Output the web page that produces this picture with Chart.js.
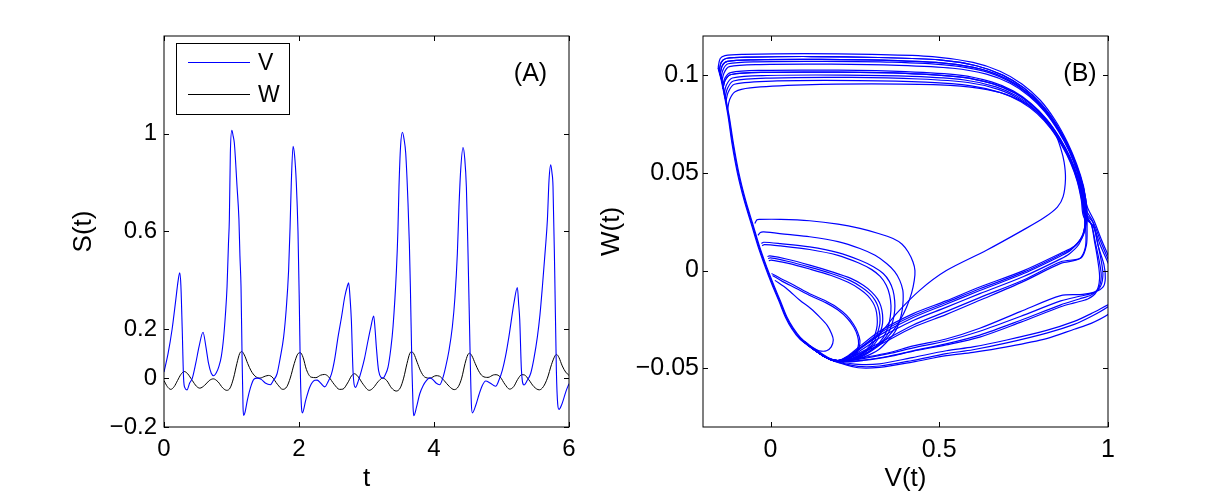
<!DOCTYPE html>
<html>
<head>
<meta charset="utf-8">
<script src="https://cdn.jsdelivr.net/npm/chart.js@4"></script>
<style>
  html, body { margin: 0; padding: 0; background: #fff; }
  #wrap { position: relative; width: 1223px; height: 494px; overflow: hidden; }
  .panel { position: absolute; top: 0; }
  #panelA { left: 0; }
  #panelB { left: 590px; }
</style>
</head>
<body>
<div id="wrap">
  <div class="panel" id="panelA"><canvas id="chartA" width="611" height="494"></canvas></div>
  <div class="panel" id="panelB"><canvas id="chartB" width="633" height="494"></canvas></div>
</div>
<script>
// ---- Panel (A): time series ----
const timeV = [0, 0.06, 0.12, 0.17, 0.21, 0.233, 0.25, 0.27, 0.29, 0.31, 0.34, 0.38, 0.42, 0.47, 0.52, 0.578, 0.62, 0.66, 0.70, 0.736,
  0.78, 0.81, 0.85, 0.884, 0.91, 0.934, 0.955, 0.968, 0.983, 1.005, 1.025, 1.042, 1.082, 1.11, 1.125, 1.141, 1.156, 1.171, 1.181,
  1.20, 1.235, 1.28, 1.33, 1.38, 1.44, 1.50, 1.576, 1.62, 1.675, 1.72, 1.772, 1.81, 1.846, 1.868, 1.886, 1.912, 1.935, 1.96, 1.985,
  2.005, 2.022, 2.037, 2.05, 2.10, 2.159, 2.233, 2.27, 2.32, 2.381, 2.43, 2.48, 2.53, 2.578, 2.63, 2.677, 2.715, 2.736, 2.756, 2.776,
  2.8, 2.836, 2.88, 2.924, 2.97, 3.022, 3.065, 3.107, 3.127, 3.146, 3.18, 3.244, 3.28, 3.319, 3.36, 3.393, 3.443, 3.465, 3.481, 3.505,
  3.532, 3.555, 3.581, 3.615, 3.635, 3.65, 3.674, 3.69, 3.70, 3.74, 3.788, 3.84, 3.887, 3.936, 3.98, 4.03, 4.084, 4.13, 4.173, 4.22,
  4.272, 4.31, 4.346, 4.37, 4.395, 4.43, 4.455, 4.48, 4.504, 4.53, 4.554, 4.569, 4.62, 4.667, 4.716, 4.766, 4.83, 4.914, 4.96, 5.013,
  5.06, 5.11, 5.186, 5.235, 5.255, 5.27, 5.295, 5.333, 5.38, 5.433, 5.48, 5.532, 5.57, 5.606, 5.65, 5.68, 5.704, 5.729, 5.748, 5.763,
  5.788, 5.813, 5.833, 5.852, 5.89, 5.926, 5.96, 6.0];
const valuesV = [0.025, 0.1, 0.2, 0.31, 0.40, 0.431, 0.38, 0.2, 0.0, -0.04, -0.048, -0.02, 0.0, 0.06, 0.13, 0.188, 0.13, 0.06, 0.02, 0.01,
  0.025, 0.045, 0.09, 0.168, 0.26, 0.374, 0.55, 0.648, 0.92, 1.014, 0.99, 0.962, 0.784, 0.65, 0.5, 0.374, 0.1, -0.12, -0.153,
  -0.14, -0.09, -0.04, -0.005, 0.0, -0.005, -0.02, -0.027, -0.01, 0.018, 0.08, 0.168, 0.28, 0.44, 0.62, 0.8, 0.949, 0.91, 0.80, 0.6,
  0.3, 0.0, -0.12, -0.142, -0.09, -0.037, -0.009, -0.008, -0.02, -0.036, -0.015, 0.016, 0.08, 0.168, 0.25, 0.332, 0.375, 0.39, 0.33, 0.236,
  0.03, -0.038, -0.01, 0.03, 0.08, 0.153, 0.21, 0.254, 0.2, 0.127, 0.03, 0.0, 0.015, 0.045, 0.12, 0.21, 0.44, 0.6, 0.78, 0.95,
  1.006, 0.98, 0.92, 0.716, 0.55, 0.374, 0.03, -0.12, -0.154, -0.12, -0.065, -0.03, -0.01, 0.001, -0.005, -0.02, -0.027, 0.0, 0.046, 0.11,
  0.21, 0.33, 0.51, 0.7, 0.85, 0.944, 0.9, 0.78, 0.51, 0.166, -0.108, -0.142, -0.11, -0.067, -0.03, -0.012, -0.02, -0.033, -0.01, 0.033,
  0.09, 0.17, 0.31, 0.371, 0.3, 0.24, 0.034, -0.028, -0.01, 0.02, 0.08, 0.17, 0.26, 0.375, 0.53, 0.648, 0.81, 0.873, 0.84, 0.785,
  0.44, 0.03, -0.107, -0.128, -0.11, -0.08, -0.05, -0.023];

const timeW = [0, 0.05, 0.1, 0.15, 0.2, 0.25, 0.3, 0.35, 0.42, 0.48, 0.53, 0.6, 0.67, 0.73, 0.8, 0.87, 0.93, 0.98, 1.03, 1.08,
  1.12, 1.15, 1.19, 1.24, 1.29, 1.35, 1.42, 1.5, 1.55, 1.6, 1.68, 1.76, 1.82, 1.87, 1.93, 1.98, 2.02, 2.06, 2.11, 2.18,
  2.25, 2.32, 2.38, 2.44, 2.52, 2.6, 2.65, 2.72, 2.78, 2.82, 2.87, 2.95, 3.04, 3.1, 3.17, 3.24, 3.3, 3.37, 3.44, 3.5,
  3.55, 3.6, 3.64, 3.665, 3.7, 3.75, 3.8, 3.86, 3.94, 4.03, 4.08, 4.15, 4.23, 4.3, 4.36, 4.41, 4.46, 4.5, 4.525, 4.56,
  4.61, 4.66, 4.72, 4.8, 4.88, 4.92, 4.98, 5.05, 5.12, 5.18, 5.24, 5.3, 5.34, 5.4, 5.48, 5.56, 5.62, 5.68, 5.74, 5.79,
  5.815, 5.85, 5.9, 5.95, 6.0];
const valuesW = [-0.01, -0.035, -0.046, -0.035, -0.01, 0.015, 0.027, 0.018, -0.01, -0.033, -0.041, -0.03, -0.01, -0.003, -0.015, -0.04, -0.05, -0.04, 0.0, 0.06,
  0.1, 0.109, 0.095, 0.06, 0.03, 0.008, 0.0, 0.008, 0.011, 0.005, -0.025, -0.046, -0.035, 0.0, 0.06, 0.098, 0.104, 0.085, 0.035, 0.004,
  0.002, 0.012, 0.015, 0.005, -0.025, -0.046, -0.045, -0.02, 0.01, 0.018, 0.008, -0.025, -0.05, -0.04, -0.015, 0.0, -0.01, -0.04, -0.053, -0.04,
  0.0, 0.06, 0.1, 0.108, 0.1, 0.065, 0.03, 0.005, 0.0, 0.01, 0.008, -0.01, -0.035, -0.047, -0.035, 0.0, 0.06, 0.095, 0.102, 0.092,
  0.06, 0.03, 0.008, 0.003, 0.013, 0.014, 0.005, -0.025, -0.045, -0.035, -0.005, 0.014, 0.013, -0.005, -0.035, -0.048, -0.035, 0.0, 0.055, 0.09,
  0.097, 0.085, 0.05, 0.025, 0.011];

const ticksT = [0, 2, 4, 6];
const ticksS = [-0.2, 0, 0.2, 0.6, 1];

// ---- Panel (B): phase plane, pieces of the trajectory as [V, W] ----
const leftBranch = [[0.2, -0.0465], [0.176, -0.0452], [0.155, -0.0432], [0.135, -0.0408], [0.11, -0.0378], [0.087, -0.0345], [0.065, -0.0295],
  [0.047, -0.024], [0.027, -0.0155], [0.01, -0.0085], [-0.005, -0.002], [-0.02, 0.005], [-0.035, 0.0125], [-0.055, 0.024], [-0.076, 0.036],
  [-0.096, 0.05], [-0.112, 0.065], [-0.125, 0.08], [-0.145, 0.0975], [-0.155, 0.104]];
const leftBranchInner = [[0.2, -0.0465], [0.177, -0.045], [0.157, -0.043], [0.137, -0.0406], [0.112, -0.0376], [0.089, -0.0343], [0.067, -0.0293],
  [0.049, -0.0239], [0.029, -0.0154], [0.012, -0.0084], [-0.003, -0.0019], [-0.018, 0.0051], [-0.033, 0.0126], [-0.053, 0.0241], [-0.074, 0.0361],
  [-0.094, 0.0501], [-0.11, 0.0651], [-0.1235, 0.0801], [-0.144, 0.0976], [-0.1545, 0.104]];
const leftBranchOuter = [[0.2, -0.0465], [0.175, -0.0454], [0.153, -0.0434], [0.133, -0.041], [0.108, -0.038], [0.085, -0.0347], [0.063, -0.0297],
  [0.045, -0.0241], [0.025, -0.0156], [0.008, -0.0086], [-0.007, -0.0021], [-0.022, 0.0049], [-0.037, 0.0124], [-0.057, 0.0239], [-0.078, 0.0359],
  [-0.098, 0.0499], [-0.114, 0.0649], [-0.1265, 0.0799], [-0.146, 0.0974], [-0.1555, 0.1037]];
// where every return path bends into the left branch
const vertexTurn = [[0.175, -0.0453], [0.152, -0.0432], [0.13, -0.0405], [0.105, -0.0372], [0.083, -0.034]];

const topLine1 = [[-0.155, 0.104], [-0.149, 0.1085], [-0.135, 0.11], [-0.08, 0.1106], [0.1, 0.111], [0.3, 0.1106], [0.48, 0.1095], [0.6, 0.1065],
  [0.68, 0.102], [0.745, 0.0955], [0.8, 0.087], [0.845, 0.0765], [0.88, 0.0655], [0.907, 0.0545], [0.927, 0.0435], [0.938, 0.033]];
const topLine2 = [[-0.1525, 0.102], [-0.146, 0.1065], [-0.132, 0.1085], [-0.06, 0.1092], [0.12, 0.1095], [0.32, 0.109], [0.5, 0.1078], [0.61, 0.1048],
  [0.688, 0.1], [0.75, 0.0935], [0.803, 0.085], [0.847, 0.0748], [0.882, 0.064], [0.908, 0.0532], [0.927, 0.0425], [0.937, 0.0322]];
const topLine3 = [[-0.15, 0.1], [-0.143, 0.1048], [-0.128, 0.107], [-0.05, 0.1078], [0.15, 0.108], [0.35, 0.1075], [0.52, 0.106], [0.625, 0.103],
  [0.7, 0.098], [0.758, 0.0915], [0.808, 0.0832], [0.85, 0.0732], [0.884, 0.0625], [0.909, 0.0518], [0.926, 0.0412], [0.935, 0.0312]];
const topLine4 = [[-0.1475, 0.098], [-0.14, 0.103], [-0.125, 0.1058], [-0.04, 0.1068], [0.16, 0.107], [0.36, 0.1066], [0.53, 0.105], [0.632, 0.102],
  [0.705, 0.097], [0.762, 0.0905], [0.81, 0.0822], [0.852, 0.0722], [0.885, 0.0615], [0.909, 0.051], [0.925, 0.0405], [0.933, 0.0305]];
const topLine5 = [[-0.145, 0.096], [-0.138, 0.101], [-0.122, 0.1043], [-0.03, 0.1054], [0.18, 0.1056], [0.38, 0.105], [0.54, 0.1035], [0.64, 0.1005],
  [0.71, 0.0958], [0.766, 0.0893], [0.813, 0.0812], [0.853, 0.0713], [0.886, 0.0607], [0.909, 0.0502], [0.924, 0.0398], [0.932, 0.03]];
const topLine6 = [[-0.1425, 0.094], [-0.135, 0.0985], [-0.118, 0.1013], [-0.03, 0.1024], [0.2, 0.1025], [0.4, 0.1018], [0.56, 0.1], [0.655, 0.0965],
  [0.72, 0.0918], [0.772, 0.0855], [0.818, 0.0775], [0.856, 0.0682], [0.887, 0.0583], [0.91, 0.0482], [0.925, 0.0385], [0.933, 0.0295]];
const topLine7 = [[-0.141, 0.093], [-0.134, 0.0975], [-0.116, 0.1003], [-0.02, 0.1014], [0.2, 0.1015], [0.4, 0.1009], [0.565, 0.099], [0.66, 0.0955],
  [0.724, 0.0908], [0.775, 0.0845], [0.82, 0.0766], [0.857, 0.0675], [0.887, 0.0578], [0.909, 0.0478], [0.924, 0.038], [0.931, 0.029]];
const topLine8 = [[-0.1375, 0.09], [-0.131, 0.0948], [-0.113, 0.0985], [-0.01, 0.0998], [0.22, 0.1], [0.42, 0.0993], [0.575, 0.0975], [0.668, 0.094],
  [0.73, 0.0893], [0.78, 0.083], [0.823, 0.0752], [0.859, 0.0662], [0.888, 0.0566], [0.909, 0.0468], [0.923, 0.0372], [0.93, 0.0285]];
const topLine9 = [[-0.135, 0.088], [-0.128, 0.093], [-0.11, 0.097], [0.0, 0.0985], [0.24, 0.0988], [0.44, 0.098], [0.585, 0.0962], [0.675, 0.0927],
  [0.735, 0.088], [0.785, 0.0818], [0.826, 0.074], [0.861, 0.0652], [0.889, 0.0558], [0.909, 0.0462], [0.922, 0.0366], [0.929, 0.028]];
const topLine10 = [[-0.1325, 0.086], [-0.126, 0.091], [-0.107, 0.0953], [0.02, 0.097], [0.26, 0.0972], [0.46, 0.0964], [0.595, 0.0945], [0.682, 0.091],
  [0.742, 0.0864], [0.79, 0.0803], [0.83, 0.0727], [0.863, 0.064], [0.89, 0.0548], [0.909, 0.0455], [0.921, 0.036], [0.928, 0.0275]];
const thinLoop = [[-0.1275, 0.082], [-0.121, 0.0875], [-0.105, 0.0915], [-0.06, 0.0935], [0.1, 0.095], [0.3, 0.0955], [0.5, 0.095], [0.62, 0.0932],
  [0.7, 0.09], [0.765, 0.0845], [0.815, 0.077], [0.845, 0.0695], [0.86, 0.0625], [0.87, 0.0555], [0.874, 0.047], [0.867, 0.0378],
  [0.85, 0.0325], [0.81, 0.027], [0.748, 0.0207], [0.64, 0.0104], [0.521, 0.0], [0.442, -0.0101], [0.373, -0.022], [0.324, -0.0323],
  [0.27, -0.039], [0.23, -0.0438], [0.2, -0.0465]];

const upperBand1 = [[0.936, 0.024], [0.925, 0.0175], [0.9, 0.0125], [0.86, 0.0089], [0.75, 0.0], [0.62, -0.0084], [0.52, -0.0155], [0.423, -0.022], [0.323, -0.031], [0.27, -0.038], [0.23, -0.0435], [0.2, -0.046]];
const upperBand2 = [[0.931, 0.022], [0.918, 0.016], [0.89, 0.0105], [0.86, 0.0075], [0.75, -0.0015], [0.62, -0.0102], [0.52, -0.0172], [0.423, -0.024], [0.323, -0.033], [0.27, -0.0395], [0.23, -0.0443], [0.2, -0.046]];
const upperBand3 = [[0.929, 0.02], [0.914, 0.0135], [0.885, 0.0085], [0.86, 0.006], [0.75, -0.003], [0.62, -0.0118], [0.52, -0.0188], [0.423, -0.0255], [0.323, -0.0345], [0.27, -0.0405], [0.23, -0.0448], [0.2, -0.046]];
const upperBand4 = [[0.934, 0.021], [0.933, 0.012], [0.915, 0.006], [0.86, 0.0037], [0.75, -0.0055], [0.62, -0.0152], [0.52, -0.0225], [0.423, -0.029], [0.323, -0.038], [0.27, -0.042], [0.23, -0.045], [0.2, -0.046]];
const upperBand5 = [[0.932, 0.023], [0.921, 0.0165], [0.895, 0.0115], [0.86, 0.0082], [0.75, -0.0008], [0.62, -0.0093], [0.52, -0.0163], [0.423, -0.023], [0.323, -0.032], [0.27, -0.039], [0.23, -0.044], [0.2, -0.046]];
const upperBand6 = [[0.938, 0.022], [0.936, 0.013], [0.92, 0.0065], [0.86, 0.0045], [0.75, -0.0048], [0.62, -0.0138], [0.52, -0.021], [0.423, -0.0278], [0.323, -0.037], [0.27, -0.0415], [0.23, -0.0448], [0.2, -0.046]];

const lowerBand1 = [[0.955, 0.025], [0.968, 0.015], [0.98, 0.005], [0.985, -0.002], [0.978, -0.008], [0.955, -0.0115], [0.92, -0.013], [0.86, -0.0155], [0.74, -0.0235], [0.62, -0.031], [0.52, -0.036], [0.423, -0.0395], [0.35, -0.0425], [0.274, -0.045], [0.23, -0.046], [0.2, -0.046]];
const lowerBand2 = [[0.952, 0.023], [0.963, 0.014], [0.975, 0.004], [0.98, -0.003], [0.972, -0.009], [0.95, -0.0125], [0.915, -0.0145], [0.86, -0.0175], [0.74, -0.0255], [0.62, -0.033], [0.52, -0.0375], [0.423, -0.041], [0.35, -0.0438], [0.274, -0.0458], [0.23, -0.0465], [0.2, -0.046]];
const lowerBand3 = [[0.958, 0.022], [0.972, 0.012], [0.988, 0.003], [0.992, -0.004], [0.985, -0.0085], [0.96, -0.011], [0.925, -0.0122], [0.86, -0.0128], [0.74, -0.021], [0.62, -0.0295], [0.52, -0.035], [0.423, -0.0385], [0.35, -0.042], [0.274, -0.0445], [0.23, -0.0458], [0.2, -0.046]];
const lowerBand4 = [[0.95, 0.024], [0.96, 0.015], [0.97, 0.005], [0.975, -0.004], [0.965, -0.011], [0.94, -0.0145], [0.9, -0.0165], [0.86, -0.0185], [0.74, -0.0265], [0.62, -0.034], [0.52, -0.038], [0.423, -0.0412], [0.35, -0.044], [0.274, -0.046], [0.23, -0.0467], [0.2, -0.046]];

const outerBand1 = [[0.96, 0.025], [0.98, 0.016], [1.0, 0.008], [1.02, 0.0], [1.035, -0.008], [1.03, -0.015], [1.0, -0.0175], [0.95, -0.022], [0.9, -0.026], [0.818, -0.0306], [0.7, -0.0355], [0.6, -0.039], [0.521, -0.041], [0.42, -0.0445], [0.323, -0.0477], [0.26, -0.048], [0.2, -0.0465]];
const outerBand2 = [[0.958, 0.024], [0.978, 0.015], [1.0, 0.006], [1.02, -0.002], [1.03, -0.009], [1.02, -0.015], [1.0, -0.0185], [0.95, -0.0235], [0.9, -0.0275], [0.818, -0.032], [0.7, -0.037], [0.6, -0.0405], [0.521, -0.0425], [0.42, -0.046], [0.323, -0.0488], [0.26, -0.049], [0.2, -0.0468]];
const outerBand3 = [[0.956, 0.023], [0.976, 0.0135], [1.0, 0.004], [1.02, -0.004], [1.03, -0.012], [1.02, -0.019], [1.0, -0.0225], [0.95, -0.027], [0.9, -0.03], [0.818, -0.0348], [0.7, -0.039], [0.6, -0.0418], [0.521, -0.0435], [0.42, -0.0468], [0.323, -0.0495], [0.26, -0.0497], [0.2, -0.047]];

// small excursions that leave the left branch and fall back to the corner
const smallLoop1 = [[-0.0465, 0.0241], [-0.04, 0.026], [-0.032, 0.0262], [0.03, 0.0262], [0.116, 0.0255], [0.2, 0.0238], [0.265, 0.0216], [0.32, 0.019], [0.363, 0.0164], [0.39, 0.0135], [0.408, 0.0095], [0.422, 0.0045], [0.428, 0.0], [0.426, -0.005], [0.418, -0.0115], [0.403, -0.0187], [0.385, -0.025], [0.36, -0.0315], [0.33, -0.037], [0.3, -0.041], [0.265, -0.0445], [0.23, -0.0462], [0.2, -0.0465]];
const smallLoop2 = [[-0.037, 0.018], [-0.03, 0.0195], [-0.02, 0.0198], [0.05, 0.0185], [0.116, 0.0173], [0.2, 0.0148], [0.265, 0.0113], [0.31, 0.0078], [0.344, 0.0036], [0.368, -0.0005], [0.383, -0.005], [0.392, -0.01], [0.393, -0.0152], [0.39, -0.0205], [0.383, -0.0255], [0.37, -0.031], [0.35, -0.0355], [0.32, -0.0405], [0.28, -0.044], [0.24, -0.046], [0.2, -0.0465]];
const smallLoop3 = [[-0.027, 0.0139], [-0.02, 0.0145], [0.03, 0.0138], [0.116, 0.0121], [0.2, 0.0092], [0.265, 0.0053], [0.305, 0.002], [0.334, -0.0015], [0.352, -0.0055], [0.363, -0.0101], [0.368, -0.0155], [0.368, -0.0204], [0.363, -0.0255], [0.353, -0.0306], [0.335, -0.0355], [0.3, -0.0405], [0.26, -0.0445], [0.22, -0.0462], [0.2, -0.0465]];
const smallLoop4 = [[-0.025, 0.0128], [-0.018, 0.0133], [0.03, 0.0126], [0.116, 0.0108], [0.2, 0.0078], [0.26, 0.004], [0.3, 0.0005], [0.325, -0.003], [0.343, -0.0075], [0.353, -0.0125], [0.357, -0.018], [0.355, -0.0235], [0.348, -0.029], [0.335, -0.034], [0.31, -0.039], [0.27, -0.0435], [0.23, -0.0458], [0.2, -0.0465]];
const smallLoop5 = [[-0.007, 0.0062], [0.0, 0.0065], [0.05, 0.0048], [0.116, 0.0018], [0.18, -0.0015], [0.235, -0.005], [0.27, -0.0085], [0.294, -0.0118], [0.31, -0.0152], [0.319, -0.0187], [0.324, -0.023], [0.324, -0.0272], [0.318, -0.0315], [0.309, -0.0358], [0.29, -0.04], [0.26, -0.0435], [0.23, -0.0455], [0.2, -0.0465]];
const smallLoop6 = [[-0.005, 0.005], [0.002, 0.0054], [0.05, 0.0038], [0.116, 0.0008], [0.18, -0.0025], [0.23, -0.006], [0.265, -0.0095], [0.288, -0.0128], [0.303, -0.0162], [0.312, -0.0197], [0.316, -0.024], [0.316, -0.028], [0.311, -0.032], [0.302, -0.036], [0.285, -0.0403], [0.258, -0.0438], [0.228, -0.0458], [0.2, -0.0465]];
const smallLoop7 = [[-0.009, 0.0072], [-0.002, 0.0075], [0.05, 0.0058], [0.116, 0.0028], [0.18, -0.0005], [0.238, -0.004], [0.275, -0.0075], [0.3, -0.011], [0.317, -0.0145], [0.327, -0.0182], [0.332, -0.0225], [0.332, -0.027], [0.326, -0.0313], [0.316, -0.0356], [0.296, -0.0398], [0.265, -0.0435], [0.232, -0.0456], [0.2, -0.0465]];
const smallLoop8 = [[0.003, -0.0015], [0.03, -0.004], [0.07, -0.0075], [0.116, -0.0118], [0.16, -0.0152], [0.196, -0.0187], [0.225, -0.0228], [0.245, -0.0272], [0.258, -0.0315], [0.265, -0.0358], [0.262, -0.0395], [0.25, -0.043], [0.225, -0.0455], [0.2, -0.0465]];
const smallLoop9 = [[0.006, -0.0025], [0.035, -0.0055], [0.075, -0.009], [0.12, -0.013], [0.165, -0.0165], [0.2, -0.0202], [0.228, -0.0245], [0.247, -0.029], [0.258, -0.0335], [0.261, -0.0375], [0.255, -0.041], [0.238, -0.0443], [0.215, -0.0462], [0.2, -0.0465]];
const smallLoop10 = [[0.013, -0.005], [0.05, -0.0095], [0.087, -0.0152], [0.12, -0.0195], [0.146, -0.0238], [0.168, -0.028], [0.181, -0.0323], [0.186, -0.0355], [0.18, -0.039], [0.166, -0.041], [0.15, -0.0412], [0.136, -0.0405], [0.116, -0.039]];

const ticksV = [0, 0.5, 1];
const ticksW = [-0.05, 0, 0.05, 0.1];

// whole orbits: a top sweep, one of the return bands, then the bend into the left branch
const returnPaths = [
  topLine1.concat(outerBand1), topLine2.concat(upperBand1), topLine3.concat(lowerBand1),
  topLine4.concat(upperBand2), topLine5.concat(outerBand2), topLine6.concat(lowerBand2),
  topLine7.concat(upperBand3), topLine8.concat(lowerBand3), topLine9.concat(upperBand4),
  topLine10.concat(outerBand3), topLine3.concat(upperBand5), topLine7.concat(lowerBand4),
  topLine2.concat(upperBand6), thinLoop,
  smallLoop1, smallLoop2, smallLoop3, smallLoop4, smallLoop5, smallLoop6, smallLoop7, smallLoop8, smallLoop9
];
const phasePaths = [leftBranch, leftBranchInner, leftBranchOuter, smallLoop10]
  .concat(returnPaths.map(p => p.concat(vertexTurn)));

// ---- shared look ----
const FONT = "'Liberation Sans', Arial, Helvetica, sans-serif";
Chart.defaults.font.family = FONT;
Chart.defaults.color = '#000';

const fmt = v => (v < 0 ? '\u2212' + String(Math.abs(v)) : String(v));

// box + inward ticks on all four sides, panel tag, optional legend
const framePlugin = {
  id: 'frame',
  afterDraw(chart, args, opts) {
    const { ctx, chartArea: a, scales } = chart;
    ctx.save();
    ctx.strokeStyle = '#000';
    ctx.lineWidth = 1;
    ctx.strokeRect(a.left, a.top, a.right - a.left, a.bottom - a.top);
    const len = 5;
    ctx.beginPath();
    scales.x.ticks.forEach(t => {
      const px = Math.round(scales.x.getPixelForValue(t.value)) + 0.5;
      ctx.moveTo(px, a.bottom); ctx.lineTo(px, a.bottom - len);
      ctx.moveTo(px, a.top); ctx.lineTo(px, a.top + len);
    });
    scales.y.ticks.forEach(t => {
      const py = Math.round(scales.y.getPixelForValue(t.value)) + 0.5;
      ctx.moveTo(a.left, py); ctx.lineTo(a.left + len, py);
      ctx.moveTo(a.right, py); ctx.lineTo(a.right - len, py);
    });
    ctx.stroke();

    ctx.fillStyle = '#000';
    ctx.font = '25px ' + FONT;
    ctx.textAlign = 'center';
    ctx.textBaseline = 'middle';
    ctx.fillText(opts.tag, a.right - opts.tagDx, a.top + 38);

    if (opts.legend) {
      const lx = a.left + 12, ly = a.top + 7;
      ctx.lineWidth = 1;
      ctx.strokeRect(lx + 0.5, ly + 0.5, 113, 71);
      opts.legend.forEach((item, i) => {
        const y = ly + 19.5 + i * 32;
        ctx.strokeStyle = item.color;
        ctx.beginPath();
        ctx.moveTo(lx + 12, y); ctx.lineTo(lx + 74, y);
        ctx.stroke();
        ctx.font = '23px ' + FONT;
        ctx.textAlign = 'left';
        ctx.fillText(item.label, lx + 82, y + 1);
      });
    }
    ctx.restore();
  }
};

function axis(min, max, tickList, title, size, opts) {
  return {
    type: 'linear', min: min, max: max,
    afterBuildTicks: s => { s.ticks = tickList.map(v => ({ value: v })); },
    afterFit: s => { if (opts.width) s.width = opts.width; if (opts.height) s.height = opts.height; },
    grid: { display: false, drawTicks: false },
    border: { display: false },
    ticks: { font: { size: size }, color: '#000', padding: opts.pad, autoSkip: false, maxRotation: 0, callback: fmt },
    title: { display: true, text: title, color: '#000', font: { size: 26 }, padding: opts.titlePad }
  };
}

new Chart(document.getElementById('chartA'), {
  type: 'line',
  data: {
    datasets: [
      { label: 'V', data: timeV.map((t, i) => ({ x: t, y: valuesV[i] })), borderColor: '#0000ff', borderWidth: 1.1,
        pointRadius: 0, cubicInterpolationMode: 'monotone' },
      { label: 'W', data: timeW.map((t, i) => ({ x: t, y: valuesW[i] })), borderColor: '#000000', borderWidth: 1,
        pointRadius: 0, cubicInterpolationMode: 'monotone' }
    ]
  },
  options: {
    responsive: false, animation: false, events: [],
    layout: { padding: { left: 0, top: 36, right: 42, bottom: 0 } },
    plugins: {
      legend: { display: false }, tooltip: { enabled: false },
      frame: { tag: '(A)', tagDx: 38.5, legend: [{ label: 'V', color: '#0000ff' }, { label: 'W', color: '#000000' }] }
    },
    scales: {
      x: axis(0, 6, ticksT, 't', 24, { height: 67, pad: 8, titlePad: { top: 0, bottom: 0 } }),
      y: axis(-0.2, 1.4, ticksS, 'S(t)', 24, { width: 164, pad: 7, titlePad: { top: 68, bottom: 0 } })
    }
  },
  plugins: [framePlugin]
});

new Chart(document.getElementById('chartB'), {
  type: 'scatter',
  data: {
    datasets: phasePaths.map(path => ({
      data: path.map(p => ({ x: p[0], y: p[1] })),
      showLine: true, borderColor: '#0000ff', borderWidth: 1.2, pointRadius: 0, tension: 0.3
    }))
  },
  options: {
    responsive: false, animation: false, events: [],
    layout: { padding: { left: 0, top: 36, right: 115, bottom: 0 } },
    plugins: { legend: { display: false }, tooltip: { enabled: false }, frame: { tag: '(B)', tagDx: 28 } },
    scales: {
      x: axis(-0.2, 1, ticksV, 'V(t)', 25, { height: 67, pad: 8, titlePad: { top: 0, bottom: 0 } }),
      y: axis(-0.08, 0.12, ticksW, 'W(t)', 25, { width: 113, pad: 4, titlePad: { top: 6, bottom: 0 } })
    }
  },
  plugins: [framePlugin]
});
</script>
</body>
</html>
